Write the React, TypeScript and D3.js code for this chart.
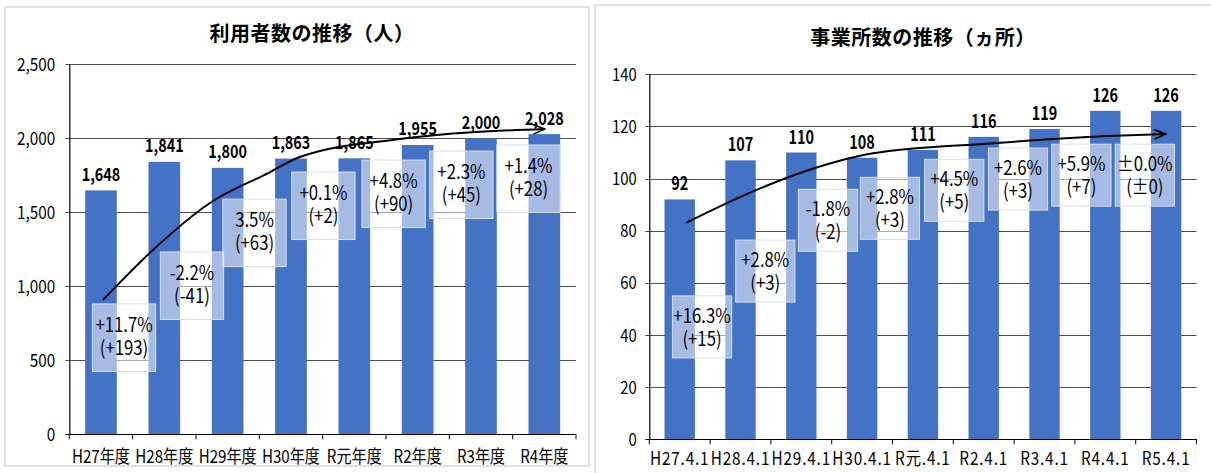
import React from "react";
import * as d3 from "d3";

// ---------- data ----------
const userCategories = ["H27年度", "H28年度", "H29年度", "H30年度", "R元年度", "R2年度", "R3年度", "R4年度"];
const userValues = [1648, 1841, 1800, 1863, 1865, 1955, 2000, 2028];
const userValueLabels = ["1,648", "1,841", "1,800", "1,863", "1,865", "1,955", "2,000", "2,028"];
const userTicks = [0, 500, 1000, 1500, 2000, 2500];
const userTickLabels = ["0", "500", "1,000", "1,500", "2,000", "2,500"];
const userPctLabels = ["+11.7%", "-2.2%", "3.5%", "+0.1%", "+4.8%", "+2.3%", "+1.4%"];
const userDiffLabels = ["(+193)", "(-41)", "(+63)", "(+2)", "(+90)", "(+45)", "(+28)"];
// note anchors in data units: category index (band centre = integer) and value at box top
const userNoteCat = [0.364, 1.437, 2.424, 3.512, 4.62, 5.69, 6.75];
const userNoteTop = [881, 1232, 1589, 1772, 1853, 1914, 1955];
// trend arrow in data units
const userTrendCat = [0.03, 0.82, 1.72, 2.64, 3.14, 4.72, 7.01];
const userTrendVal = [907, 1245, 1563, 1765, 1874, 1995, 2063];

const officeCategories = ["H27.4.1", "H28.4.1", "H29.4.1", "H30.4.1", "R元.4.1", "R2.4.1", "R3.4.1", "R4.4.1", "R5.4.1"];
const officeValues = [92, 107, 110, 108, 111, 116, 119, 126, 126];
const officeValueLabels = ["92", "107", "110", "108", "111", "116", "119", "126", "126"];
const officeTicks = [0, 20, 40, 60, 80, 100, 120, 140];
const officeTickLabels = ["0", "20", "40", "60", "80", "100", "120", "140"];
const officePctLabels = ["+16.3%", "+2.8%", "-1.8%", "+2.8%", "+4.5%", "+2.6%", "+5.9%", "±0.0%"];
const officeDiffLabels = ["(+15)", "(+3)", "(-2)", "(+3)", "(+5)", "(+3)", "(+7)", "(±0)"];
const officeNoteCat = [0.367, 1.408, 2.439, 3.457, 4.516, 5.564, 6.607, 7.65];
const officeNoteTop = [55.0, 76.4, 95.9, 100.5, 107.4, 111.7, 113.2, 113.2];
const officeTrendCat = [0.11, 1.0, 1.89, 3.18, 5.1, 7.05, 8.0];
const officeTrendVal = [83.1, 93.0, 101.4, 109.7, 113.5, 116.3, 117.1];

// ---------- styles ----------
const FONT = "'Noto Sans CJK JP', 'Noto Sans', sans-serif";
const BAR = "#4472C4";

type Cfg = {
  id: string;
  title: string;
  titleX: number;
  titleY: number;
  panel: [number, number, number, number];
  x0: number; x1: number; y0: number; y1: number;
  yMax: number;
  categories: string[];
  values: number[];
  valueLabels: string[];
  ticks: number[];
  tickLabels: string[];
  pct: string[];
  diff: string[];
  noteCat: number[];
  noteTop: number[];
  trendCat: number[];
  trendVal: number[];
  tickFont: number; tickScale: number; tickGap: number;
  catFont: number; catScale: number; catY: number; catSpacing: number;
  valFont: number; valScale: number; valGap: number;
  noteH: number; noteWFrac: number; line1: number; lineGap: number;
};

function T(props: { x: number; y: number; sx?: number; size: number; anchor?: string; weight?: number; children: React.ReactNode; spacing?: number }) {
  const { x, y, sx = 1, size, anchor = "middle", weight = 400, children, spacing = 0 } = props;
  return (
    <text
      transform={`translate(${x},${y}) scale(${sx},1)`}
      fontFamily={FONT}
      fontSize={size}
      fontWeight={weight}
      textAnchor={anchor}
      letterSpacing={spacing}
      fill="#000"
    >
      {children}
    </text>
  );
}

function Panel({ c }: { c: Cfg }) {
  const x = d3.scaleBand<string>().domain(c.categories).range([c.x0, c.x1]).paddingInner(0.5).paddingOuter(0.25);
  const y = d3.scaleLinear().domain([0, c.yMax]).range([c.y1, c.y0]);
  const step = x.step();
  const catPos = d3.scaleLinear().domain([-0.5, c.categories.length - 0.5]).range([c.x0, c.x1]);
  const line = d3
    .line<number>()
    .x((_, i) => catPos(c.trendCat[i]))
    .y((v) => y(v))
    .curve(d3.curveMonotoneX);
  const boundaries = d3.range(c.categories.length + 1).map((i) => c.x0 + i * step);
  const noteW = step * c.noteWFrac;
  return (
    <g>
      <rect x={c.panel[0]} y={c.panel[1]} width={c.panel[2]} height={c.panel[3]} fill="#fff" stroke="#d9d9d9" strokeWidth={1.5} />
      <T x={c.titleX} y={c.titleY} size={20} weight={700} spacing={0.5}>{c.title}</T>
      {/* gridlines */}
      {c.ticks.map((t) => (
        <line key={t} x1={c.x0 - 4} x2={c.x1} y1={Math.round(y(t)) + 0.5} y2={Math.round(y(t)) + 0.5} stroke={t === 0 ? "#000" : "#4d4d4d"} strokeWidth={1} />
      ))}
      {/* y tick labels */}
      {c.ticks.map((t, i) => (
        <T key={"l" + t} x={c.x0 - c.tickGap} y={y(t) + 6.5} size={c.tickFont} sx={c.tickScale} anchor="end">
          {c.tickLabels[i]}
        </T>
      ))}
      {/* bars */}
      {c.values.map((v, i) => (
        <rect key={"b" + i} x={x(c.categories[i])} y={y(v)} width={x.bandwidth()} height={y(0) - y(v)} fill={BAR} />
      ))}
      {/* axes */}
      <line x1={c.x0 + 0.5} x2={c.x0 + 0.5} y1={c.y0} y2={c.y1 + 0.5} stroke="#000" strokeWidth={1.2} />
      <line x1={c.x0} x2={c.x1} y1={Math.round(c.y1) + 0.5} y2={Math.round(c.y1) + 0.5} stroke="#000" strokeWidth={1.2} />
      {boundaries.map((bx, i) => (
        <line key={"t" + i} x1={bx} x2={bx} y1={c.y1} y2={c.y1 + 5} stroke="#000" strokeWidth={1} />
      ))}
      {/* category labels */}
      {c.categories.map((cat) => (
        <T key={cat} x={(x(cat) as number) + x.bandwidth() / 2} y={c.catY} size={c.catFont} sx={c.catScale} spacing={c.catSpacing}>
          {cat}
        </T>
      ))}
      {/* value labels */}
      {c.values.map((v, i) => (
        <T key={"v" + i} x={(x(c.categories[i]) as number) + x.bandwidth() / 2} y={y(v) - c.valGap} size={c.valFont} sx={c.valScale} weight={700}>
          {c.valueLabels[i]}
        </T>
      ))}
      {/* note boxes */}
      {c.pct.map((p, i) => {
        const cx = catPos(c.noteCat[i]);
        const top = y(c.noteTop[i]);
        return (
          <g key={"n" + i}>
            <rect x={cx - noteW / 2} y={top} width={noteW} height={c.noteH} fill="#ffffff" fillOpacity={0.52} stroke="#d6e0f0" strokeWidth={1} />
            <text
              transform={`translate(${cx},${top + c.line1}) scale(0.86,1)`}
              fontFamily={FONT}
              fontSize={19.5}
              textAnchor="middle"
              fill="#000"
            >
              <tspan x={0} y={0}>{p}</tspan>
              <tspan x={0} y={c.lineGap}>{c.diff[i]}</tspan>
            </text>
          </g>
        );
      })}
      {/* trend arrow */}
      <path d={line(c.trendVal) || ""} fill="none" stroke="#000" strokeWidth={2} markerEnd={`url(#arrow-${c.id})`} />
    </g>
  );
}

const leftCfg: Cfg = {
  id: "u",
  title: "利用者数の推移（人）",
  titleX: 312, titleY: 41,
  panel: [5, 7, 584, 459],
  x0: 69.3, x1: 576, y0: 64.3, y1: 434.3,
  yMax: 2500,
  categories: userCategories, values: userValues, valueLabels: userValueLabels,
  ticks: userTicks, tickLabels: userTickLabels,
  pct: userPctLabels, diff: userDiffLabels,
  noteCat: userNoteCat, noteTop: userNoteTop,
  trendCat: userTrendCat, trendVal: userTrendVal,
  tickFont: 18, tickScale: 0.85, tickGap: 14,
  catFont: 18, catScale: 0.84, catY: 462.5, catSpacing: 0,
  valFont: 18, valScale: 0.8, valGap: 9.5,
  noteH: 67.5, noteWFrac: 1.0, line1: 28, lineGap: 23,
};

const rightCfg: Cfg = {
  id: "o",
  title: "事業所数の推移（ヵ所）",
  titleX: 923, titleY: 44.5,
  panel: [595, 5, 620, 472],
  x0: 649.3, x1: 1196.5, y0: 74.3, y1: 439.3,
  yMax: 140,
  categories: officeCategories, values: officeValues, valueLabels: officeValueLabels,
  ticks: officeTicks, tickLabels: officeTickLabels,
  pct: officePctLabels, diff: officeDiffLabels,
  noteCat: officeNoteCat, noteTop: officeNoteTop,
  trendCat: officeTrendCat, trendVal: officeTrendVal,
  tickFont: 17.5, tickScale: 0.85, tickGap: 12.5,
  catFont: 18, catScale: 0.85, catY: 464.5, catSpacing: 1,
  valFont: 18.5, valScale: 0.78, valGap: 9,
  noteH: 62, noteWFrac: 0.975, line1: 27, lineGap: 23,
};

export default function App() {
  return (
    <svg width={1211} height={473} style={{ position: "absolute", left: 0, top: 0, background: "#fff" }}>
      <defs>
        {["u", "o"].map((id) => (
          <marker key={id} id={`arrow-${id}`} viewBox="0 0 12 10" refX={11} refY={5} markerWidth={7} markerHeight={6} orient="auto" markerUnits="strokeWidth">
            <path d="M1,1 L11,5 L1,9" fill="none" stroke="#000" strokeWidth={1.3} />
          </marker>
        ))}
      </defs>
      <rect x={0} y={0} width={1211} height={473} fill="#fff" />
      <Panel c={leftCfg} />
      <Panel c={rightCfg} />
    </svg>
  );
}
